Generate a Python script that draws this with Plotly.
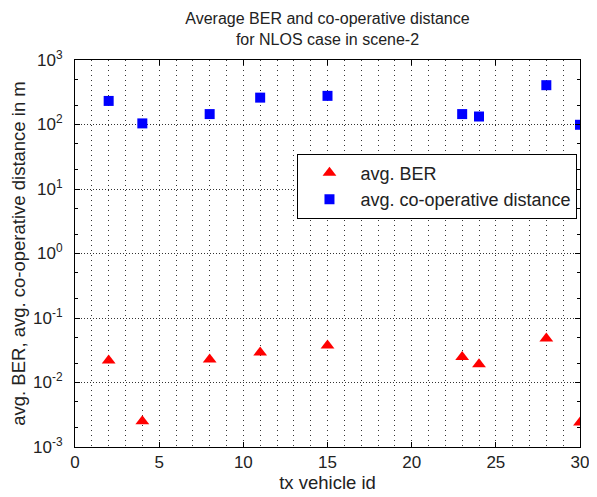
import plotly.graph_objects as go

tx_ids_ber = [2, 4, 8, 11, 15, 23, 24, 28, 30]
avg_ber = [0.0219, 0.0025, 0.0228, 0.0292, 0.0376, 0.0248, 0.0192, 0.0483, 0.0024]

tx_ids_dist = [2, 4, 8, 11, 15, 23, 24, 28, 30]
avg_dist = [232, 104, 145, 261, 278, 145, 133, 407, 99]

y_tickvals = [1e-3, 1e-2, 1e-1, 1, 10, 100, 1000]
y_ticktext = ["10<sup>-3</sup>", "10<sup>-2</sup>", "10<sup>-1</sup>", "10<sup>0</sup>",
              "10<sup>1</sup>", "10<sup>2</sup>", "10<sup>3</sup>"]
x_tickvals = [0, 5, 10, 15, 20, 25, 30]

FONT = "Liberation Sans, Arial, sans-serif"
TXT = "#222"

# page body has an 8px margin, so the figure is 8px smaller and margins shifted
W, H = 589, 489

fig = go.Figure()
fig.add_trace(go.Scatter(
    x=tx_ids_ber, y=avg_ber, mode="markers", name="avg. BER",
    marker=dict(symbol="triangle-up", color="#ff0000", size=12, line=dict(width=0)),
))
fig.add_trace(go.Scatter(
    x=tx_ids_dist, y=avg_dist, mode="markers", name="avg. co-operative distance",
    marker=dict(symbol="square", color="#0000ff", size=10, line=dict(width=0)),
))

fig.update_layout(
    width=W, height=H,
    margin=dict(l=67, r=17, t=52, b=50, autoexpand=False),
    paper_bgcolor="white", plot_bgcolor="white",
    font=dict(family=FONT, size=16, color=TXT),
    title=dict(text="Average BER and co-operative distance<br>for NLOS case in scene-2",
               x=0.5, xanchor="center", xref="paper",
               y=1 - 16 / H, yanchor="top", yref="container",
               font=dict(size=16, family=FONT, color=TXT)),
    showlegend=True,
    legend=dict(x=0.995, xanchor="right", y=0.758, yanchor="top",
                bordercolor="black", borderwidth=1, bgcolor="white",
                font=dict(size=18, family=FONT, color=TXT),
                itemwidth=52, tracegroupgap=0),
)

fig.update_xaxes(
    range=[0, 30], tickvals=x_tickvals, ticks="inside", ticklen=5, tickcolor="black",
    showline=True, linecolor="black", linewidth=1, mirror="ticks",
    showgrid=True, gridcolor="#333", griddash="1px,4px", gridwidth=1,
    minor=dict(dtick=1, showgrid=True, gridcolor="#333", griddash="1px,4px", ticks=""),
    zeroline=False, automargin=False,
    title=dict(text="tx vehicle id", standoff=4, font=dict(size=18.5, color=TXT)),
    tickfont=dict(size=17, color=TXT),
)
fig.update_yaxes(
    type="log", range=[-3, 3], tickvals=y_tickvals, ticktext=y_ticktext,
    ticks="inside", ticklen=5, tickcolor="black", ticklabelstandoff=8,
    showline=True, linecolor="black", linewidth=1, mirror="ticks",
    showgrid=True, gridcolor="#333", griddash="1px,2px", gridwidth=1,
    minor=dict(ticks="inside", ticklen=3, tickcolor="black", showgrid=False),
    zeroline=False, automargin=False,
    title=dict(text="avg. BER, avg. co-operative distance in m", standoff=2,
               font=dict(size=18.5, color=TXT)),
    tickfont=dict(size=17, color=TXT),
)

fig.write_html("out.html")
